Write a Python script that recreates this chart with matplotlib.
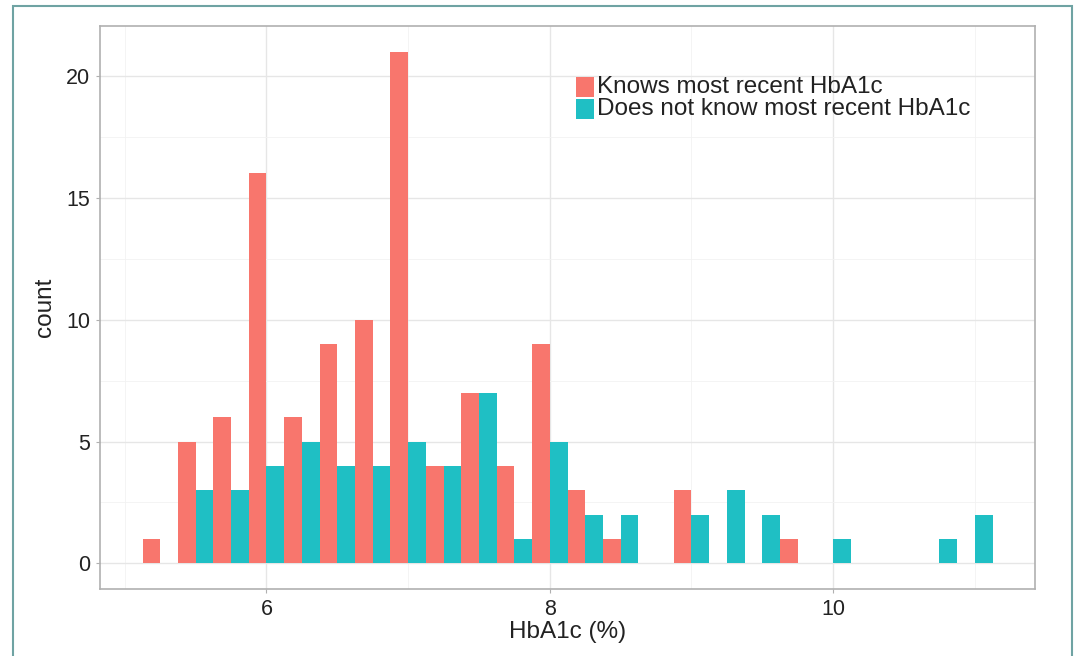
import matplotlib
matplotlib.use("Agg")
import matplotlib.pyplot as plt
from matplotlib.patches import Rectangle

plt.rcParams['font.family'] = ['Liberation Sans', 'DejaVu Sans']

# bin centres of the HbA1c histogram (binwidth 0.25)
bin_centers = [5.25, 5.5, 5.75, 6.0, 6.25, 6.5, 6.75, 7.0, 7.25, 7.5, 7.75, 8.0,
               8.25, 8.5, 8.75, 9.0, 9.25, 9.5, 9.75, 10.0, 10.25, 10.5, 10.75, 11.0]
knows = [1, 5, 6, 16, 6, 9, 10, 21, 4, 7, 4, 9,
         3, 1, 0, 3, 0, 0, 1, 0, 0, 0, 0, 0]
not_knows = [0, 3, 3, 4, 5, 4, 4, 5, 4, 7, 1, 5,
             2, 2, 0, 2, 3, 2, 0, 1, 0, 0, 1, 2]
labels = ["Knows most recent HbA1c", "Does not know most recent HbA1c"]
colors = ["#F8766D", "#1FBFC4"]
binwidth = 0.25
x_ticks = [6, 8, 10]
y_ticks = [0, 5, 10, 15, 20]

W, H = 1078, 656
fig = plt.figure(figsize=(W / 100, H / 100), dpi=100)
fig.patch.set_facecolor("white")
ax = fig.add_axes([100 / W, 1 - 589 / H, (1035 - 100) / W, (589 - 26) / H])

bw = binwidth / 2
ax.bar([c - bw / 2 for c in bin_centers], knows, width=bw, color=colors[0], linewidth=0, zorder=3)
ax.bar([c + bw / 2 for c in bin_centers], not_knows, width=bw, color=colors[1], linewidth=0, zorder=3)

lo = bin_centers[0] - binwidth / 2
hi = bin_centers[-1] + binwidth / 2
pad = (hi - lo) * 0.05
ax.set_xlim(lo - pad, hi + pad)
ymax = max(max(knows), max(not_knows))
ax.set_ylim(-ymax * 0.05, ymax * 1.05)

ax.set_xticks(x_ticks)
ax.set_xticks([5, 7, 9, 11], minor=True)
ax.set_yticks(y_ticks)
ax.set_yticks([2.5, 7.5, 12.5, 17.5], minor=True)
ax.grid(which="major", color="#E6E6E6", linewidth=1.0, zorder=0)
ax.grid(which="minor", color="#F2F2F2", linewidth=0.6, zorder=0)
ax.set_axisbelow(True)
for s in ax.spines.values():
    s.set_color("#B0B0B0")
    s.set_linewidth(1.2)
ax.tick_params(which="major", length=3, color="#B0B0B0", labelsize=15.5, labelcolor="#222222", pad=4)
ax.tick_params(which="minor", length=0)
ax.set_xlabel("HbA1c (%)", fontsize=17.5, color="#222222", labelpad=1)
ax.set_ylabel("count", fontsize=17.5, color="#222222", labelpad=7)

# legend (manual, ggplot-like tight keys)
tr = ax.transAxes
def ax_xy(px, py):
    return ((px - 100) / (1035 - 100), (589 - py) / (589 - 26))
for i, (lab, col) in enumerate(zip(labels, colors)):
    top = 77 + i * 22
    x0, y0 = ax_xy(576, top + 20)
    x1, y1 = ax_xy(594, top)
    ax.add_patch(Rectangle((x0, y0), x1 - x0, y1 - y0, transform=tr, color=col, linewidth=0, zorder=5))
    tx, ty = ax_xy(597, top + 10)
    ax.text(tx, ty, lab, transform=tr, fontsize=17.5, color="#222222", va="center", ha="left", zorder=6)

# outer teal frame
fig.add_artist(Rectangle((13 / W, -0.02), (1072 - 13) / W, 1 - 6 / H + 0.02,
                         transform=fig.transFigure, fill=False, edgecolor="#6FA3A3", linewidth=1.5))

fig.savefig("out.png", dpi=100, facecolor="white")
